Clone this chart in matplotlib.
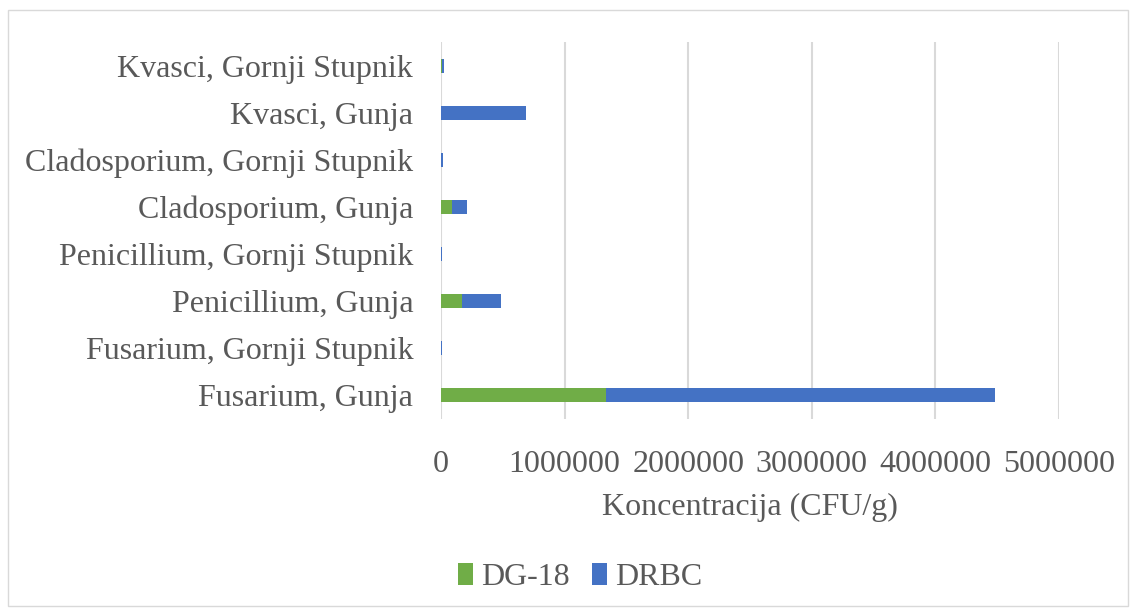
import matplotlib.pyplot as plt
from matplotlib.patches import Rectangle

categories = ["Fusarium, Gunja", "Fusarium, Gornji Stupnik",
              "Penicillium, Gunja", "Penicillium, Gornji Stupnik",
              "Cladosporium, Gunja", "Cladosporium, Gornji Stupnik",
              "Kvasci, Gunja", "Kvasci, Gornji Stupnik"]
dg18 = [1335000, 2000, 172000, 2000, 92000, 3000, 0, 5000]
drbc = [3145000, 4000, 313000, 6000, 116000, 10000, 690000, 22000]
xticks = [0, 1000000, 2000000, 3000000, 4000000, 5000000]

plt.rcParams['font.family'] = ['Liberation Serif', 'DejaVu Serif']
text_col = "#595959"

fig = plt.figure(figsize=(11.31, 6.09), dpi=100)
ax = fig.add_axes([0.3899, 0.312, 0.5464, 0.619])

y = range(len(categories))
ax.barh(y, dg18, height=0.3, color="#70ad47", label="DG-18", zorder=3)
ax.barh(y, drbc, left=dg18, height=0.3, color="#4472c4", label="DRBC", zorder=3)

ax.set_xlim(0, 5000000)
ax.set_ylim(-0.5, len(categories) - 0.5)
ax.set_xticks(xticks)
ax.set_xticklabels([str(v) for v in xticks])
ax.set_yticks(list(y))
ax.set_yticklabels(categories)
ax.tick_params(axis="both", length=0, labelsize=23, colors=text_col)
ax.tick_params(axis="x", pad=22)
ax.tick_params(axis="y", pad=20)
for s in ax.spines.values():
    s.set_visible(False)
ax.grid(axis="x", color="#d9d9d9", linewidth=1.5, zorder=0)
ax.set_xlabel("Koncentracija (CFU/g)", fontsize=23, color=text_col, labelpad=10)

leg = fig.legend(loc="center", bbox_to_anchor=(0.513, 0.052), ncol=2, frameon=False,
                 fontsize=23, handlelength=0.48, handleheight=0.68, handletextpad=0.25,
                 columnspacing=0.7, labelcolor=text_col)

fig.patches.append(Rectangle((0.007, 0.005), 0.99, 0.978, transform=fig.transFigure,
                             fill=False, edgecolor="#d9d9d9", linewidth=1))

fig.savefig("out.png", dpi=100)
